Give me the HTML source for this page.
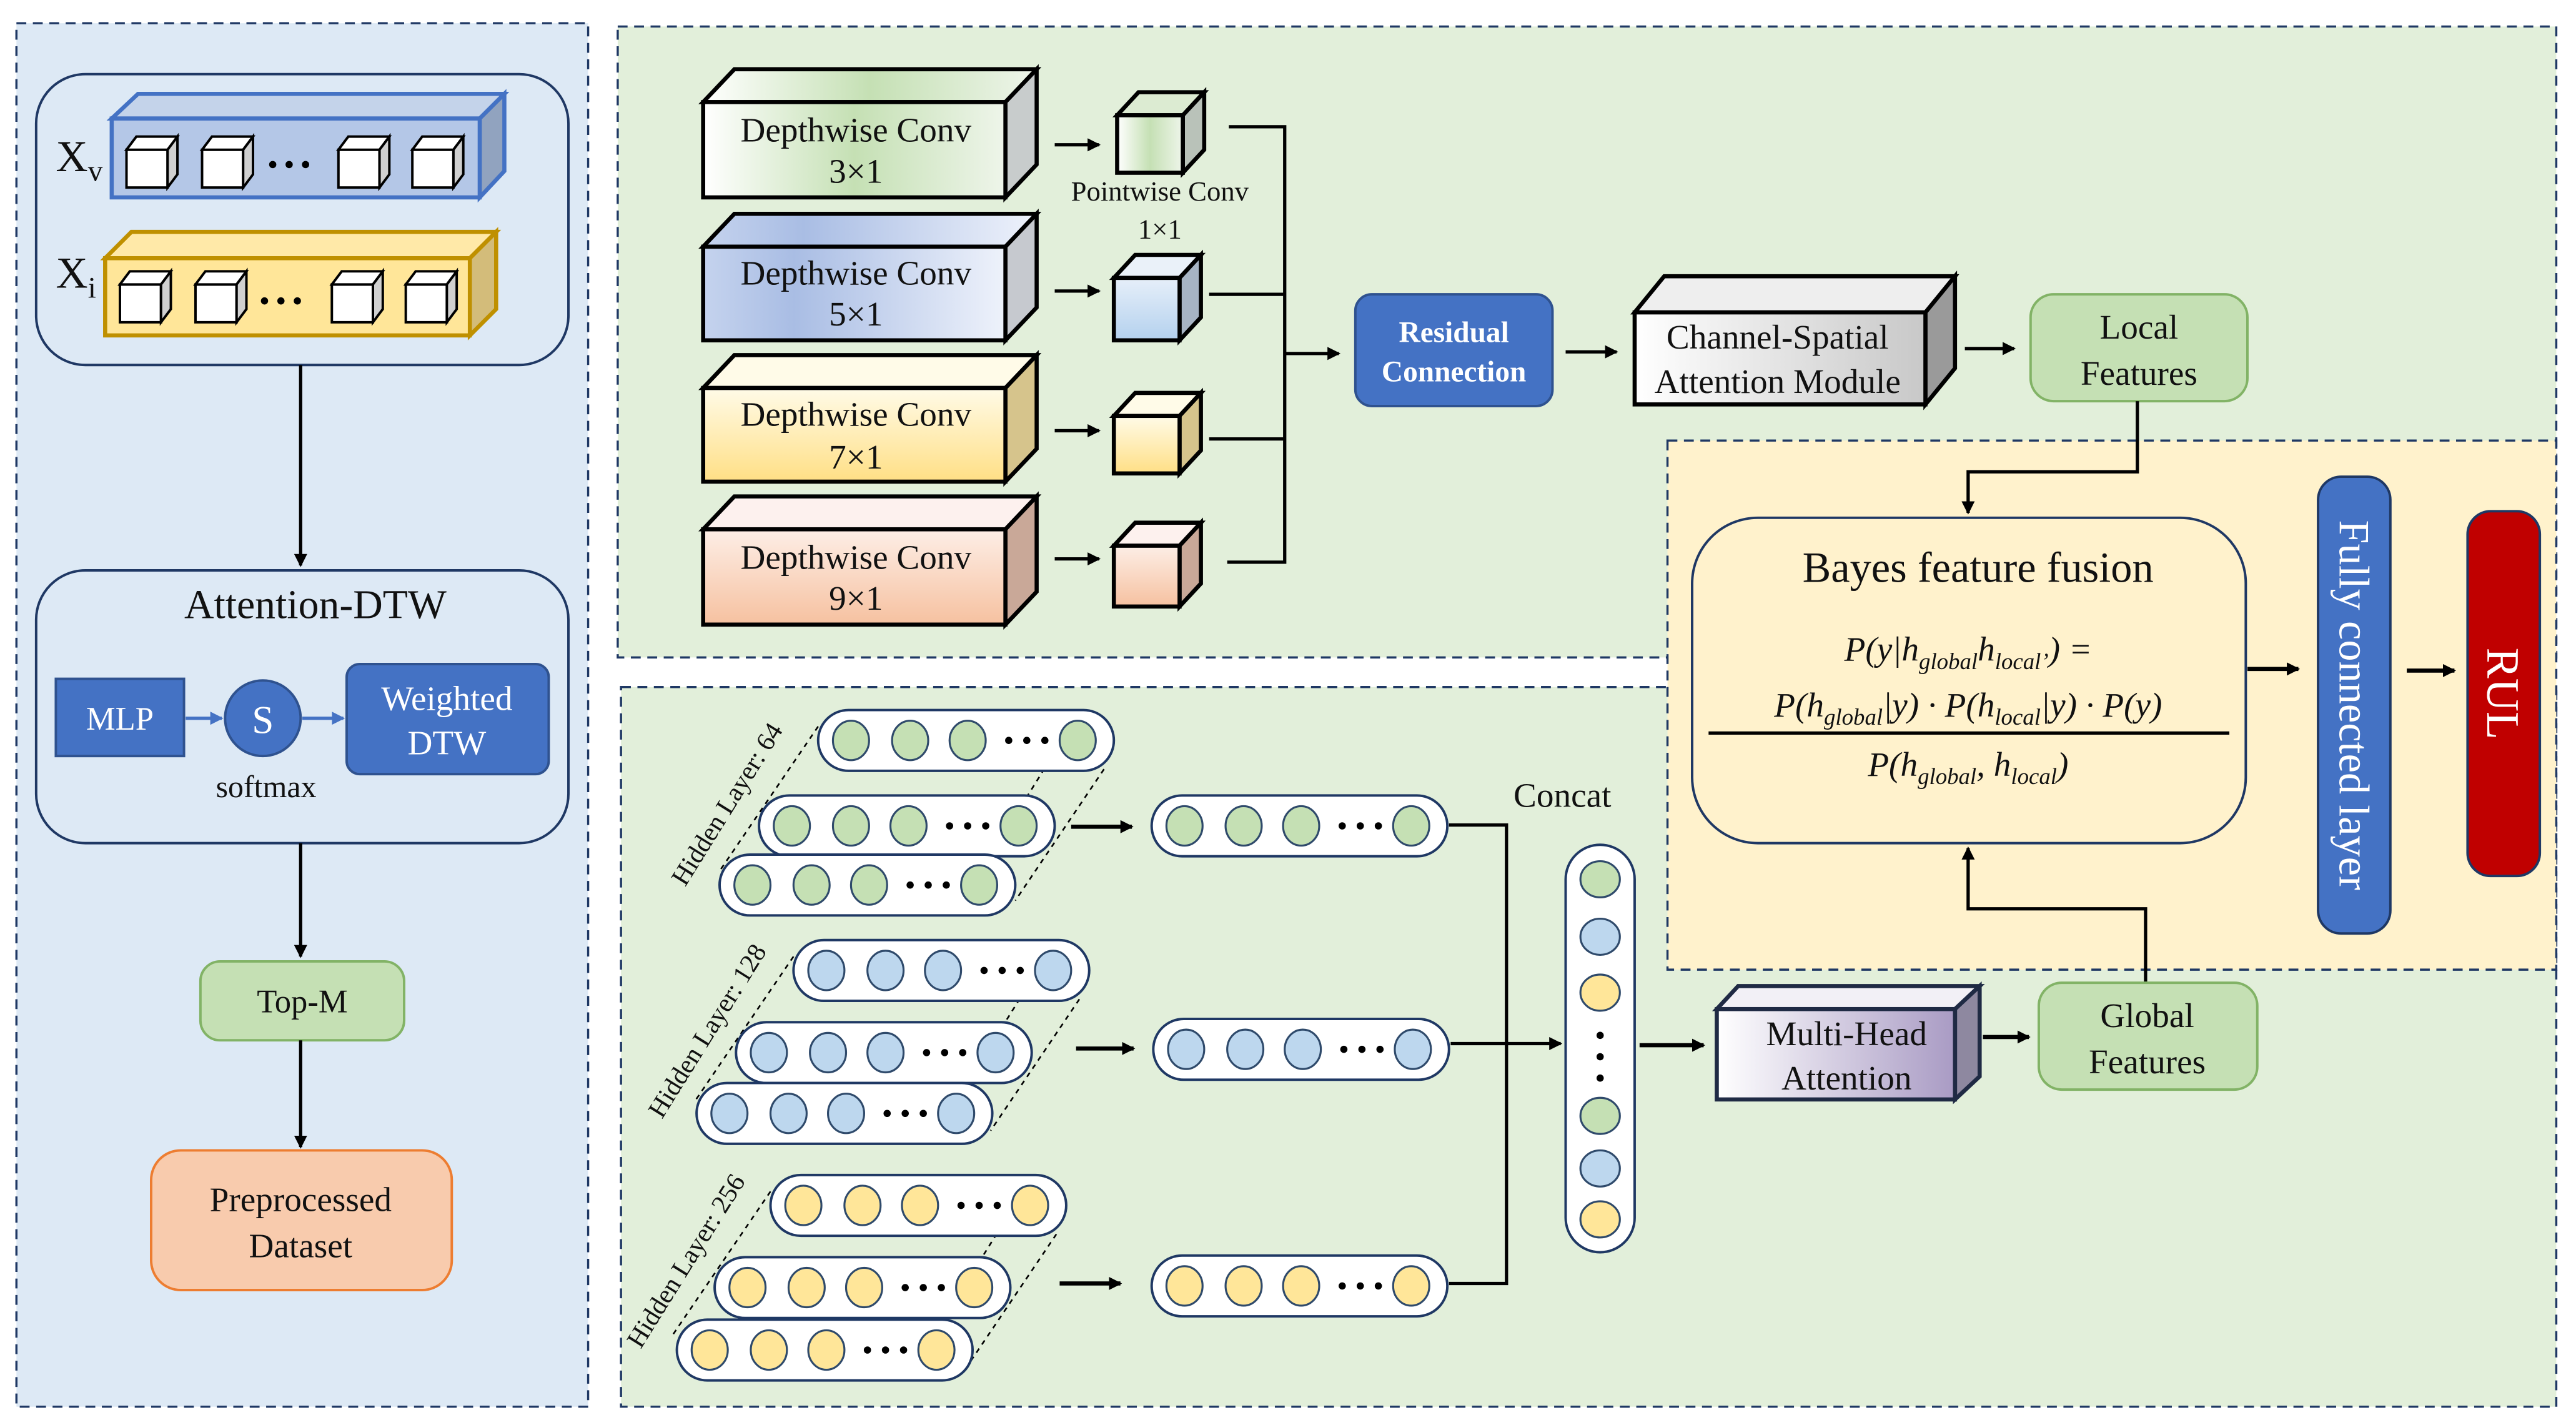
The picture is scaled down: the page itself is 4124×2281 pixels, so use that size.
<!DOCTYPE html>
<html><head><meta charset="utf-8"><style>
html,body{margin:0;padding:0;background:#fff}
svg{display:block}
text{font-family:"Liberation Serif",serif;fill:#111}
</style></head><body>
<svg width="4124" height="2281" viewBox="0 0 1568 867" xmlns="http://www.w3.org/2000/svg">
<defs>
<marker id="ar" markerWidth="8" markerHeight="8" refX="7" refY="4" orient="auto" markerUnits="userSpaceOnUse"><path d="M0,0 L8,4 L0,8 Z" fill="#000"/></marker>
<marker id="arb" markerWidth="8" markerHeight="8" refX="7" refY="4" orient="auto" markerUnits="userSpaceOnUse"><path d="M0,0 L8,4 L0,8 Z" fill="#4472c4"/></marker>
<linearGradient id="gG" x1="0" x2="1"><stop offset="0" stop-color="#fff"/><stop offset="0.5" stop-color="#c5e0b4"/><stop offset="1" stop-color="#eef5ea"/></linearGradient>
<linearGradient id="gB" x1="0" x2="1"><stop offset="0" stop-color="#c5d3ee"/><stop offset="0.3" stop-color="#a9bde4"/><stop offset="1" stop-color="#eef2fb"/></linearGradient>
<linearGradient id="gY" x1="0" x2="0" y1="0" y2="1"><stop offset="0" stop-color="#fffbe8"/><stop offset="1" stop-color="#ffdf85"/></linearGradient>
<linearGradient id="gO" x1="0" x2="0" y1="0" y2="1"><stop offset="0" stop-color="#fdeee6"/><stop offset="1" stop-color="#f6c1a0"/></linearGradient>
<linearGradient id="gBc" x1="0" x2="0" y1="0" y2="1"><stop offset="0" stop-color="#e6eff9"/><stop offset="1" stop-color="#b4d1ee"/></linearGradient>
<linearGradient id="gGr" x1="0" x2="1"><stop offset="0" stop-color="#fff"/><stop offset="1" stop-color="#c8c8c8"/></linearGradient>
<linearGradient id="gP" x1="0" x2="1"><stop offset="0" stop-color="#fff"/><stop offset="1" stop-color="#a99bc4"/></linearGradient>
<g id="pG"><rect x="0" y="0" width="180" height="37" rx="18.5" fill="#fff" stroke="#1f3864" stroke-width="1.5"/><g fill="#c5e0b4" stroke="#2f4a6b" stroke-width="1.2"><ellipse cx="20" cy="18.5" rx="11" ry="12"/><ellipse cx="56" cy="18.5" rx="11" ry="12"/><ellipse cx="91" cy="18.5" rx="11" ry="12"/><ellipse cx="158" cy="18.5" rx="11" ry="12"/></g><g fill="#000"><circle cx="116" cy="18.5" r="2.2"/><circle cx="127" cy="18.5" r="2.2"/><circle cx="138" cy="18.5" r="2.2"/></g></g>
<g id="pB"><rect x="0" y="0" width="180" height="37" rx="18.5" fill="#fff" stroke="#1f3864" stroke-width="1.5"/><g fill="#bdd7ee" stroke="#2f4a6b" stroke-width="1.2"><ellipse cx="20" cy="18.5" rx="11" ry="12"/><ellipse cx="56" cy="18.5" rx="11" ry="12"/><ellipse cx="91" cy="18.5" rx="11" ry="12"/><ellipse cx="158" cy="18.5" rx="11" ry="12"/></g><g fill="#000"><circle cx="116" cy="18.5" r="2.2"/><circle cx="127" cy="18.5" r="2.2"/><circle cx="138" cy="18.5" r="2.2"/></g></g>
<g id="pY"><rect x="0" y="0" width="180" height="37" rx="18.5" fill="#fff" stroke="#1f3864" stroke-width="1.5"/><g fill="#ffe699" stroke="#2f4a6b" stroke-width="1.2"><ellipse cx="20" cy="18.5" rx="11" ry="12"/><ellipse cx="56" cy="18.5" rx="11" ry="12"/><ellipse cx="91" cy="18.5" rx="11" ry="12"/><ellipse cx="158" cy="18.5" rx="11" ry="12"/></g><g fill="#000"><circle cx="116" cy="18.5" r="2.2"/><circle cx="127" cy="18.5" r="2.2"/><circle cx="138" cy="18.5" r="2.2"/></g></g>
<g id="cube"><rect x="0" y="0" width="25" height="23" fill="#fff" stroke="#000" stroke-width="1.5"/><path d="M0,0 L6,-8 L31,-8 L25,0 Z" fill="#fff" stroke="#000" stroke-width="1.5"/><path d="M25,0 L31,-8 L31,15 L25,23 Z" fill="#d0d0d0" stroke="#000" stroke-width="1.5"/></g>
<g id="dots3"><circle cx="0" cy="0" r="2.2"/><circle cx="10" cy="0" r="2.2"/><circle cx="20" cy="0" r="2.2"/></g>
</defs>

<!-- panels -->
<rect x="10" y="14" width="348" height="842" fill="#dde9f5" stroke="#1f3864" stroke-width="1.3" stroke-dasharray="6,4"/>
<rect x="376" y="16" width="1180" height="384" fill="#e2efda" stroke="#1f3864" stroke-width="1.3" stroke-dasharray="6,4"/>
<rect x="378" y="418" width="1178" height="438" fill="#e2efda" stroke="#1f3864" stroke-width="1.3" stroke-dasharray="6,4"/>
<rect x="1015" y="268" width="541" height="322" fill="#fff2cc" stroke="#1f3864" stroke-width="1.3" stroke-dasharray="6,4"/>

<!-- left panel -->
<rect x="22" y="45" width="324" height="177" rx="30" fill="#dde9f5" stroke="#1f3864" stroke-width="1.5"/>
<path d="M68,72 L84,57 L307,57 L292,72 Z" fill="#c4d3ea" stroke="#4472c4" stroke-width="2.5"/>
<path d="M292,72 L307,57 L307,104 L292,120 Z" fill="#91a3bf" stroke="#4472c4" stroke-width="2.5"/>
<rect x="68" y="72" width="224" height="48" fill="#b4c7e7" stroke="#4472c4" stroke-width="2.5"/>
<use href="#cube" x="77" y="91"/><use href="#cube" x="123" y="91"/><use href="#cube" x="206" y="91"/><use href="#cube" x="251" y="91"/>
<use href="#dots3" x="166" y="100"/>
<path d="M64,157 L80,141 L302,141 L286,157 Z" fill="#ffe9a8" stroke="#bf9000" stroke-width="2.5"/>
<path d="M286,157 L302,141 L302,188 L286,204 Z" fill="#d3bc7a" stroke="#bf9000" stroke-width="2.5"/>
<rect x="64" y="157" width="222" height="47" fill="#ffe699" stroke="#bf9000" stroke-width="2.5"/>
<use href="#cube" x="73" y="173"/><use href="#cube" x="119" y="173"/><use href="#cube" x="202" y="173"/><use href="#cube" x="247" y="173"/>
<use href="#dots3" x="161" y="183"/>
<text x="34" y="104" font-size="27">X<tspan font-size="18" dy="6">v</tspan></text>
<text x="34" y="175" font-size="27">X<tspan font-size="18" dy="6">i</tspan></text>
<line x1="183" y1="222" x2="183" y2="344" stroke="#000" stroke-width="2" marker-end="url(#ar)"/>
<rect x="22" y="347" width="324" height="166" rx="30" fill="#dde9f5" stroke="#1f3864" stroke-width="1.5"/>
<text x="192" y="376" font-size="25" text-anchor="middle">Attention-DTW</text>
<rect x="34" y="413" width="78" height="47" fill="#4472c4" stroke="#2f528f" stroke-width="1.5"/>
<text x="73" y="444" font-size="20" text-anchor="middle" style="fill:#fff">MLP</text>
<line x1="113" y1="437" x2="135" y2="437" stroke="#4472c4" stroke-width="2" marker-end="url(#arb)"/>
<circle cx="160" cy="437" r="23" fill="#4472c4" stroke="#2f528f" stroke-width="1.5"/>
<text x="160" y="446" font-size="24" text-anchor="middle" style="fill:#fff">S</text>
<line x1="184" y1="437" x2="209" y2="437" stroke="#4472c4" stroke-width="2" marker-end="url(#arb)"/>
<text x="162" y="485" font-size="19" text-anchor="middle">softmax</text>
<rect x="211" y="404" width="123" height="67" rx="8" fill="#4472c4" stroke="#2f528f" stroke-width="1.5"/>
<text x="272" y="432" font-size="21" text-anchor="middle" style="fill:#fff">Weighted</text>
<text x="272" y="459" font-size="21" text-anchor="middle" style="fill:#fff">DTW</text>
<line x1="183" y1="513" x2="183" y2="582" stroke="#000" stroke-width="2" marker-end="url(#ar)"/>
<rect x="122" y="585" width="124" height="48" rx="12" fill="#c5e0b4" stroke="#82b366" stroke-width="1.5"/>
<text x="184" y="616" font-size="20" text-anchor="middle">Top-M</text>
<line x1="183" y1="633" x2="183" y2="698" stroke="#000" stroke-width="2" marker-end="url(#ar)"/>
<rect x="92" y="700" width="183" height="85" rx="18" fill="#f8cbad" stroke="#ed7d31" stroke-width="1.5"/>
<text x="183" y="737" font-size="21" text-anchor="middle">Preprocessed</text>
<text x="183" y="765" font-size="21" text-anchor="middle">Dataset</text>

<!-- top panel: depthwise convs -->
<g stroke="#000" stroke-width="2.5">
<path d="M428,62 L447,42 L631,42 L612,62 Z" fill="url(#gG)"/><path d="M612,62 L631,42 L631,100 L612,120 Z" fill="#c8cccc"/><rect x="428" y="62" width="184" height="58" fill="url(#gG)"/>
<path d="M428,150 L447,130 L631,130 L612,150 Z" fill="url(#gB)"/><path d="M612,150 L631,130 L631,187 L612,207 Z" fill="#c6c9cf"/><rect x="428" y="150" width="184" height="57" fill="url(#gB)"/>
<path d="M428,236 L447,216 L631,216 L612,236 Z" fill="#fffbe8"/><path d="M612,236 L631,216 L631,273 L612,293 Z" fill="#d6c48c"/><rect x="428" y="236" width="184" height="57" fill="url(#gY)"/>
<path d="M428,322 L447,302 L631,302 L612,322 Z" fill="#fdf1ee"/><path d="M612,322 L631,302 L631,360 L612,380 Z" fill="#c9a898"/><rect x="428" y="322" width="184" height="58" fill="url(#gO)"/>
</g>
<g font-size="21" text-anchor="middle">
<text x="521" y="86">Depthwise Conv</text><text x="521" y="111">3×1</text>
<text x="521" y="173">Depthwise Conv</text><text x="521" y="198">5×1</text>
<text x="521" y="259">Depthwise Conv</text><text x="521" y="285">7×1</text>
<text x="521" y="346">Depthwise Conv</text><text x="521" y="371">9×1</text>
</g>
<g stroke="#000" stroke-width="2" marker-end="url(#ar)">
<line x1="642" y1="88" x2="669" y2="88"/><line x1="642" y1="177" x2="669" y2="177"/><line x1="642" y1="262" x2="669" y2="262"/><line x1="642" y1="340" x2="669" y2="340"/>
</g>
<g stroke="#000" stroke-width="2.5">
<path d="M680,70 L693,56 L733,56 L720,70 Z" fill="#dcebd2"/><path d="M720,70 L733,56 L733,91 L720,105 Z" fill="#b9c2b9"/><rect x="680" y="70" width="40" height="35" fill="url(#gG)"/>
<path d="M678,169 L691,155 L731,155 L718,169 Z" fill="#eaf1f9"/><path d="M718,169 L731,155 L731,193 L718,207 Z" fill="#a7b4c4"/><rect x="678" y="169" width="40" height="38" fill="url(#gBc)"/>
<path d="M678,253 L691,239 L731,239 L718,253 Z" fill="#fffbe8"/><path d="M718,253 L731,239 L731,274 L718,288 Z" fill="#d6c48c"/><rect x="678" y="253" width="40" height="35" fill="url(#gY)"/>
<path d="M678,332 L691,318 L731,318 L718,332 Z" fill="#fdf1ee"/><path d="M718,332 L731,318 L731,355 L718,369 Z" fill="#c9a898"/><rect x="678" y="332" width="40" height="37" fill="url(#gO)"/>
</g>
<text x="706" y="122" font-size="17" text-anchor="middle">Pointwise Conv</text>
<text x="706" y="145" font-size="17" text-anchor="middle">1×1</text>
<g stroke="#000" stroke-width="2" fill="none">
<path d="M748,77 L782,77 L782,342 L747,342"/><line x1="736" y1="179" x2="782" y2="179"/><line x1="736" y1="267" x2="782" y2="267"/>
</g>
<line x1="782" y1="215" x2="815" y2="215" stroke="#000" stroke-width="2" marker-end="url(#ar)"/>
<rect x="825" y="179" width="120" height="68" rx="10" fill="#4472c4" stroke="#2f528f" stroke-width="1.5"/>
<text x="885" y="208" font-size="18" font-weight="bold" text-anchor="middle" style="fill:#fff">Residual</text>
<text x="885" y="232" font-size="18" font-weight="bold" text-anchor="middle" style="fill:#fff">Connection</text>
<line x1="953" y1="214" x2="984" y2="214" stroke="#000" stroke-width="2" marker-end="url(#ar)"/>
<g stroke="#000" stroke-width="2.5">
<path d="M995,190 L1013,168 L1190,168 L1172,190 Z" fill="#eeeeee"/><path d="M1172,190 L1190,168 L1190,224 L1172,246 Z" fill="#9a9a9a"/><rect x="995" y="190" width="177" height="56" fill="url(#gGr)"/>
</g>
<text x="1082" y="212" font-size="21" text-anchor="middle">Channel-Spatial</text>
<text x="1082" y="239" font-size="21" text-anchor="middle">Attention Module</text>
<line x1="1196" y1="212" x2="1226" y2="212" stroke="#000" stroke-width="2" marker-end="url(#ar)"/>
<rect x="1236" y="179" width="132" height="65" rx="14" fill="#c5e0b4" stroke="#82b366" stroke-width="1.5"/>
<text x="1302" y="206" font-size="21" text-anchor="middle">Local</text>
<text x="1302" y="234" font-size="21" text-anchor="middle">Features</text>
<path d="M1301,244 L1301,287 L1198,287 L1198,312" fill="none" stroke="#000" stroke-width="2" marker-end="url(#ar)"/>

<!-- Bayes -->
<rect x="1030" y="315" width="337" height="198" rx="40" fill="#fff2cc" stroke="#1f3864" stroke-width="1.5"/>
<text x="1204" y="354" font-size="26" text-anchor="middle">Bayes feature fusion</text>
<g font-style="italic" font-size="21" text-anchor="middle">
<text x="1198" y="402">P(y|h<tspan font-size="14" dy="5">global</tspan><tspan dy="-5">h</tspan><tspan font-size="14" dy="5">local’</tspan><tspan dy="-5">) =</tspan></text>
<text x="1198" y="436">P(h<tspan font-size="14" dy="5">global</tspan><tspan dy="-5">|y) · P(h</tspan><tspan font-size="14" dy="5">local</tspan><tspan dy="-5">|y) · P(y)</tspan></text>
<text x="1198" y="472">P(h<tspan font-size="14" dy="5">global</tspan><tspan dy="-5">, h</tspan><tspan font-size="14" dy="5">local</tspan><tspan dy="-5">)</tspan></text>
</g>
<line x1="1040" y1="446" x2="1357" y2="446" stroke="#000" stroke-width="2"/>
<line x1="1368" y1="407" x2="1399" y2="407" stroke="#000" stroke-width="2.5" marker-end="url(#ar)"/>
<rect x="1411" y="290" width="44" height="278" rx="14" fill="#4472c4" stroke="#1f3864" stroke-width="1.5"/>
<text transform="translate(1424,429) rotate(90)" font-size="26" text-anchor="middle" style="fill:#fff">Fully connected layer</text>
<line x1="1465" y1="408" x2="1494" y2="408" stroke="#000" stroke-width="2.5" marker-end="url(#ar)"/>
<rect x="1502" y="311" width="44" height="222" rx="14" fill="#c00000" stroke="#1f3864" stroke-width="1.5"/>
<text transform="translate(1514,422) rotate(90)" font-size="28" text-anchor="middle" style="fill:#fff">RUL</text>
<path d="M1306,598 L1306,553 L1198,553 L1198,516" fill="none" stroke="#000" stroke-width="2" marker-end="url(#ar)"/>

<!-- bottom panel -->
<g stroke="#000" stroke-width="1" stroke-dasharray="3,3" fill="none">
<line x1="498" y1="442" x2="438" y2="530"/><line x1="658" y1="432" x2="600" y2="525"/><line x1="672" y1="468" x2="618" y2="548"/>
<line x1="483" y1="582" x2="423" y2="670"/><line x1="643" y1="572" x2="585" y2="665"/><line x1="657" y1="608" x2="603" y2="688"/>
<line x1="469" y1="725" x2="409" y2="813"/><line x1="629" y1="715" x2="571" y2="808"/><line x1="643" y1="751" x2="589" y2="831"/>
</g>
<use href="#pG" x="498" y="432"/><use href="#pG" x="462" y="484"/><use href="#pG" x="438" y="520"/>
<use href="#pB" x="483" y="572"/><use href="#pB" x="448" y="622"/><use href="#pB" x="424" y="659"/>
<use href="#pY" x="469" y="715"/><use href="#pY" x="435" y="765"/><use href="#pY" x="412" y="803"/>
<g font-size="16">
<text transform="translate(447,492) rotate(-58)" text-anchor="middle">Hidden Layer: 64</text>
<text transform="translate(435,630) rotate(-58)" text-anchor="middle">Hidden Layer: 128</text>
<text transform="translate(422,770) rotate(-58)" text-anchor="middle">Hidden Layer: 256</text>
</g>
<g stroke="#000" stroke-width="2.5" marker-end="url(#ar)">
<line x1="652" y1="503" x2="689" y2="503"/><line x1="655" y1="638" x2="690" y2="638"/><line x1="645" y1="781" x2="682" y2="781"/>
</g>
<use href="#pG" x="701" y="484" transform="translate(0,0)"/>
<use href="#pB" x="702" y="620"/>
<use href="#pY" x="701" y="764"/>
<g stroke="#000" stroke-width="2" fill="none">
<path d="M882,502 L917,502 L917,781 L882,781"/>
</g>
<line x1="883" y1="635" x2="950" y2="635" stroke="#000" stroke-width="2" marker-end="url(#ar)"/>
<text x="951" y="491" font-size="21" text-anchor="middle">Concat</text>
<rect x="953" y="514" width="42" height="248" rx="21" fill="#fff" stroke="#1f3864" stroke-width="1.5"/>
<g stroke="#2f4a6b" stroke-width="1.2">
<ellipse cx="974" cy="535" rx="12" ry="11" fill="#c5e0b4"/><ellipse cx="974" cy="570" rx="12" ry="11" fill="#bdd7ee"/><ellipse cx="974" cy="604" rx="12" ry="11" fill="#ffe699"/>
<ellipse cx="974" cy="679" rx="12" ry="11" fill="#c5e0b4"/><ellipse cx="974" cy="711" rx="12" ry="11" fill="#bdd7ee"/><ellipse cx="974" cy="742" rx="12" ry="11" fill="#ffe699"/>
</g>
<g fill="#000"><circle cx="974" cy="630" r="2.2"/><circle cx="974" cy="643" r="2.2"/><circle cx="974" cy="656" r="2.2"/></g>
<line x1="998" y1="636" x2="1037" y2="636" stroke="#000" stroke-width="2.5" marker-end="url(#ar)"/>
<g stroke="#1f2a44" stroke-width="2.5">
<path d="M1045,614 L1058,600 L1205,600 L1190,614 Z" fill="#f2f0f6"/><path d="M1190,614 L1205,600 L1205,655 L1190,669 Z" fill="#8e88a0"/><rect x="1045" y="614" width="145" height="55" fill="url(#gP)"/>
</g>
<text x="1124" y="636" font-size="21" text-anchor="middle">Multi-Head</text>
<text x="1124" y="663" font-size="21" text-anchor="middle">Attention</text>
<line x1="1207" y1="631" x2="1235" y2="631" stroke="#000" stroke-width="2.5" marker-end="url(#ar)"/>
<rect x="1241" y="598" width="133" height="65" rx="14" fill="#c5e0b4" stroke="#82b366" stroke-width="1.5"/>
<text x="1307" y="625" font-size="21" text-anchor="middle">Global</text>
<text x="1307" y="653" font-size="21" text-anchor="middle">Features</text>
</svg>
</body></html>
